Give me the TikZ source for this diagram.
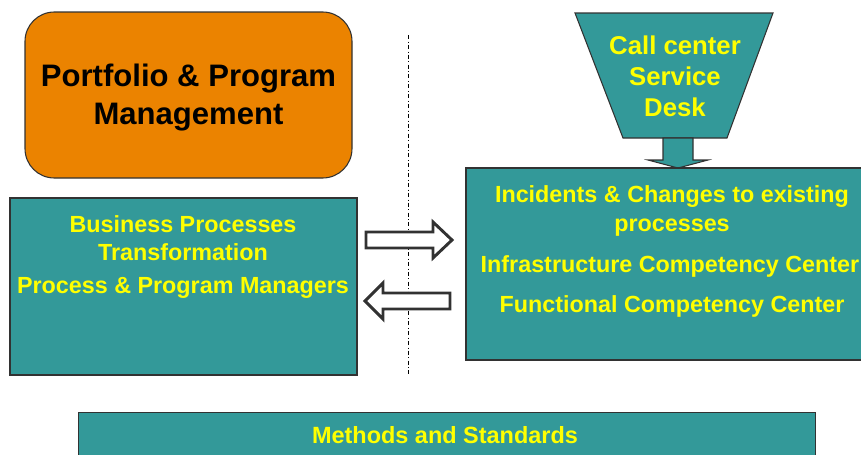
\documentclass[tikz,border=0pt]{standalone}
\usepackage{fontspec}
\setmainfont{Liberation Sans}
\usepackage{xcolor}
\usetikzlibrary{positioning}

\definecolor{tealbox}{RGB}{51,153,153}
\definecolor{orangebox}{RGB}{235,131,0}
\definecolor{textyellow}{RGB}{255,255,0}
\definecolor{edgegray}{RGB}{50,50,50}

\begin{document}
\begin{tikzpicture}[
  x=0.75pt, y=-0.75pt,
  panel/.style={draw=edgegray, fill=tealbox, line width=0.8pt},
  label/.style={text=textyellow, font=\bfseries\fontsize{17.5}{21}\selectfont, align=center, inner sep=0pt},
  hollow/.style={draw=edgegray, fill=white, line width=2.2pt, line join=miter}
]
\useasboundingbox (0,0) rectangle (861,454);

% portfolio box
\node[draw=edgegray, fill=orangebox, rounded corners=22pt, line width=0.8pt,
      minimum width=327*0.75pt, minimum height=166*0.75pt] (pfm) at (188.5,95) {};
\node[align=center, inner sep=0pt, font=\bfseries\fontsize{23.3}{28}\selectfont] (pfm1) at (188.5,97.5)
  {Portfolio \& Program\\Management};

% separator
\coordinate (septop) at (408,35);
\coordinate (sepbot) at (408,375);
\draw[dash dot, line width=0.5pt] (septop) -- (sepbot);

% left panel
\node[panel, minimum width=347*0.75pt, minimum height=177*0.75pt] (bpt) at (183.5,286.5) {};
\node[label] (bpt1) at (183,238) {Business Processes\\Transformation};
\node[label] (bpt2) at (183,288) {Process \& Program Managers};

% funnel
\draw[panel] (575,13) -- (773,13) -- (727,138) -- (623,138) -- cycle;
\node[label, font=\bfseries\fontsize{19.3}{23.3}\selectfont] (desk) at (675,76)
  {Call center\\Service\\Desk};
\draw[panel] (663,138) -- (693,138) -- (693,160) -- (708,160) -- (678,168)
  -- (648,160) -- (663,160) -- cycle;

% right panel
\node[panel, minimum width=400*0.75pt, minimum height=192*0.75pt] (ops) at (666,264) {};
\node[label, font=\bfseries\fontsize{17.5}{21.8}\selectfont] (ops1) at (672,211)
  {Incidents \& Changes to existing\\processes};
\node[label] (ops2) at (670,266)
  {Infrastructure Competency Center};
\node[label] (ops3) at (672,306.5)
  {Functional Competency Center};

% exchange arrows
\draw[hollow] (366,232) -- (433,232) -- (433,222) -- (452,240) -- (433,258)
  -- (433,248) -- (366,248) -- cycle;
\draw[hollow] (450,293) -- (383,293) -- (383,283) -- (365,301) -- (383,319)
  -- (383,309) -- (450,309) -- cycle;

% methods bar
\node[panel, minimum width=737*0.75pt, minimum height=50*0.75pt, anchor=north west] (mas) at (78,412) {};
\node[label, font=\bfseries\fontsize{17.6}{21}\selectfont] (mas1) at (445,435)
  {Methods and Standards};
\end{tikzpicture}
\end{document}
